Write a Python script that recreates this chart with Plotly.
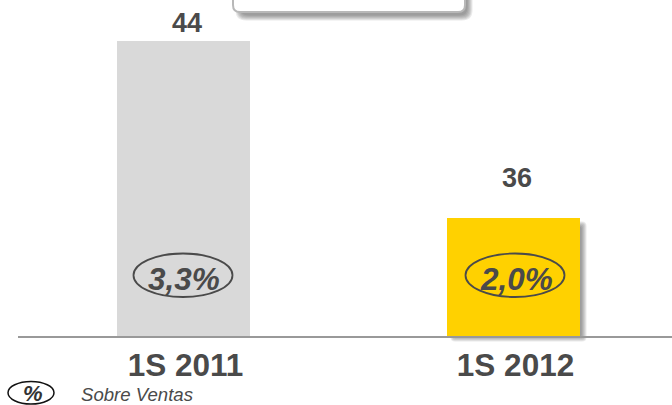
import plotly.graph_objects as go

categories = ["1S 2011", "1S 2012"]
values = [44, 36]
value_labels = ["44", "36"]
pct_labels = ["3,3%", "2,0%"]
bar_colors = ["#d9d9d9", "#ffd100"]
label_shift = [18, 40]

W, H = 672, 405
L, T, R, B = 18, 0, 0, 69
PW, PH = W - L - R, H - T - B
UNIT = 22.125
BASE = 36 - 118 / UNIT

def px(x):
    return (x - L) / PW

def py(y):
    return 1 - (y - T) / PH

TXT = "#4a4a4a"
FONT = "Liberation Sans, Arial, sans-serif"

fig = go.Figure(go.Bar(
    x=categories, y=[v - BASE for v in values], base=BASE,
    width=133 / 330, marker=dict(color=bar_colors, line=dict(width=0)),
    hoverinfo="skip",
))

shapes = []

def rrect(x0, y0, x1, y1, r):
    X0, X1 = px(x0), px(x1)
    Y0, Y1 = py(y0), py(y1)
    rx, ry = r / PW, r / PH
    return (f"M{X0+rx},{Y0} L{X1-rx},{Y0} Q{X1},{Y0} {X1},{Y0-ry} "
            f"L{X1},{Y1+ry} Q{X1},{Y1} {X1-rx},{Y1} L{X0+rx},{Y1} "
            f"Q{X0},{Y1} {X0},{Y1+ry} L{X0},{Y0-ry} Q{X0},{Y0} {X0+rx},{Y0} Z")

def shadow(x0, y0, x1, y1, r=2, steps=6, spread=1.0, alpha=0.11):
    for i in range(steps):
        d = (steps - 1 - i) * spread - (steps - 1) * spread / 2
        shapes.append(dict(type="path", xref="paper", yref="paper",
                           path=rrect(x0 - d, y0 - d, x1 + d, y1 + d, r + max(d, 0)),
                           fillcolor=f"rgba(60,60,60,{alpha})",
                           line=dict(width=0), layer="below"))

# yellow bar shadow
shadow(453, 224, 584, 339)

# callout box
shadow(238, -20, 470, 18, r=8)
shapes.append(dict(type="path", xref="paper", yref="paper",
                   path=rrect(233, -20, 465, 12, 7), fillcolor="white",
                   line=dict(color="#b8b8b8", width=2), layer="above"))

# ovals
for cx in (183, 515):
    shapes.append(dict(type="circle", xref="paper", yref="paper",
                       x0=px(cx - 49.5), x1=px(cx + 49.5), y0=py(297), y1=py(253.5),
                       line=dict(color=TXT, width=1.8), layer="above"))
# legend oval
shapes.append(dict(type="circle", xref="paper", yref="paper",
                   x0=px(8), x1=px(54), y0=py(404), y1=py(381.5),
                   fillcolor="white", line=dict(color="#111111", width=1.5), layer="above"))

ann = []
for cat, v, lab, s in zip(categories, values, value_labels, label_shift):
    ann.append(dict(x=cat, y=v, text=f"<b>{lab}</b>", showarrow=False, yshift=s, xshift=3,
                    yanchor="middle", font=dict(size=27, color=TXT, family=FONT)))
for cx, lab in zip((184.5, 516), pct_labels):
    ann.append(dict(xref="paper", yref="paper", x=px(cx), y=py(278.5), text=f"<b><i>{lab}</i></b>",
                    showarrow=False, yanchor="middle", xanchor="center",
                    font=dict(size=31.5, color=TXT, family=FONT)))
ann.append(dict(xref="paper", yref="paper", x=px(33), y=py(393), text="<b><i>%</i></b>",
                showarrow=False, xanchor="center", yanchor="middle",
                font=dict(size=22, color="#333333", family=FONT)))
ann.append(dict(xref="paper", yref="paper", x=px(81), y=py(394), text="<i>Sobre Ventas</i>",
                showarrow=False, xanchor="left", yanchor="middle", xshift=-2,
                font=dict(size=18.6, color=TXT, family=FONT)))

fig.update_layout(
    width=W, height=H, margin=dict(l=L, r=R, t=T, b=B, pad=0),
    paper_bgcolor="white", plot_bgcolor="rgba(0,0,0,0)",
    showlegend=False, shapes=shapes, annotations=ann,
    xaxis=dict(type="category", categoryorder="array", categoryarray=categories,
               range=[(L - 183.5) / 330, (W - 183.5) / 330],
               showline=True, linecolor="#999999", linewidth=2, showgrid=False, zeroline=False,
               ticks="", ticklabelshift=2, ticklabelstandoff=0,
               tickfont=dict(size=31.5, color=TXT, family=FONT), tickprefix="<b>", ticksuffix="</b>"),
    yaxis=dict(visible=False, range=[BASE, BASE + PH / UNIT], showgrid=False, zeroline=False),
)
fig.write_html("out.html", config=dict(displayModeBar=False),
               post_script="document.body.style.margin='0';document.body.style.overflow='hidden';")
